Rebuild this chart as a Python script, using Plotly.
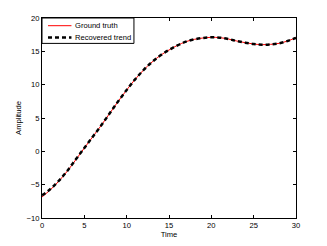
import plotly.graph_objects as go

time = list(range(0, 31))
ground_truth = [-6.85, -5.75, -4.45, -2.95, -1.25, 0.5, 2.2, 3.9, 5.7, 7.5,
                9.2, 10.8, 12.2, 13.4, 14.4, 15.2, 15.9, 16.45, 16.8, 17.0,
                17.1, 17.05, 16.85, 16.55, 16.3, 16.1, 16.0, 16.05, 16.2, 16.55, 17.05]
recovered_trend = [-6.6, -5.65, -4.4, -2.9, -1.2, 0.5, 2.2, 3.9, 5.7, 7.5,
                   9.2, 10.8, 12.2, 13.4, 14.4, 15.2, 15.9, 16.45, 16.8, 17.0,
                   17.1, 17.05, 16.85, 16.55, 16.3, 16.1, 16.0, 16.05, 16.2, 16.55, 17.0]
x_ticks = [0, 5, 10, 15, 20, 25, 30]
y_ticks = [-10, -5, 0, 5, 10, 15, 20]
series_names = ["Ground truth", "Recovered trend"]

font = dict(family="Liberation Sans, Arial, sans-serif", size=7.6, color="black")
truth_line = dict(color="red", width=1)
trend_line = dict(color="black", width=2.5, dash="4px,3px")

fig = go.Figure()
fig.add_trace(go.Scatter(x=time, y=ground_truth, mode="lines", name=series_names[0],
                         line=dict(shape="spline", **truth_line), showlegend=False))
fig.add_trace(go.Scatter(x=time, y=recovered_trend, mode="lines", name=series_names[1],
                         line=dict(shape="spline", **trend_line), showlegend=False))

axis_common = dict(showgrid=False, zeroline=False, showline=True, linecolor="black",
                   linewidth=1, mirror="ticks", ticks="inside", ticklen=3,
                   tickcolor="black", tickfont=font, automargin=False)

# legend box (drawn in axis-domain coordinates)
fig.add_shape(type="rect", xref="x domain", yref="y domain",
              x0=0, x1=0.362, y0=0.873, y1=1,
              line=dict(color="black", width=1), fillcolor="white", layer="above")
legend_rows = [0.9615, 0.903]
for name, style, yy in zip(series_names, [truth_line, trend_line], legend_rows):
    fig.add_shape(type="line", xref="x domain", yref="y domain",
                  x0=0.0236, x1=0.116, y0=yy, y1=yy, line=style, layer="above")
    fig.add_annotation(xref="x domain", yref="y domain", x=0.122, y=yy, text=name,
                       showarrow=False, xanchor="left", yanchor="middle", font=font)

fig.update_layout(
    width=311, height=238,
    margin=dict(l=34, r=23, t=10, b=28),
    paper_bgcolor="white", plot_bgcolor="white",
    font=font,
    xaxis=dict(range=[0, 30], tickvals=x_ticks,
               title=dict(text="Time", font=font, standoff=0), **axis_common),
    yaxis=dict(range=[-10, 20], tickvals=y_ticks,
               title=dict(text="Amplitude", font=font, standoff=3), **axis_common),
    showlegend=False,
)

fig.write_html("out.html")
